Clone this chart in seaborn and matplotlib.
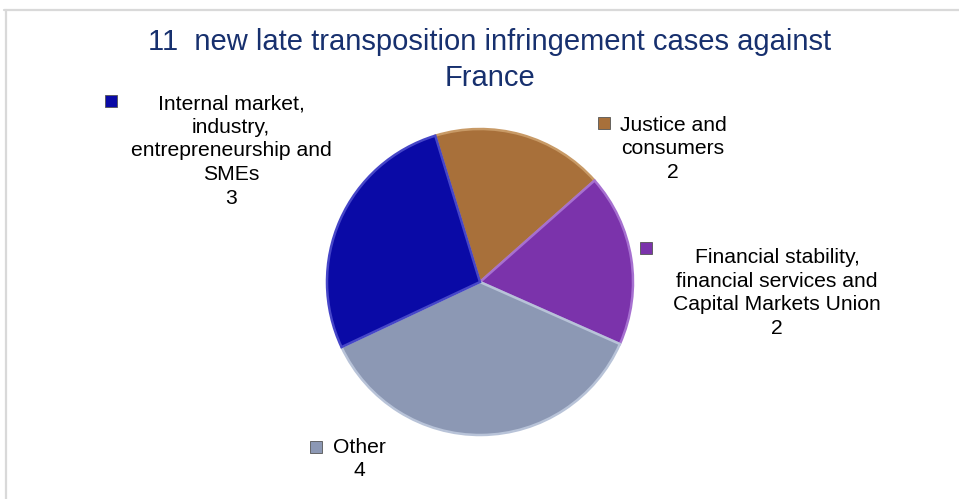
import matplotlib
matplotlib.use("Agg")
import matplotlib.pyplot as plt
from matplotlib.lines import Line2D
from matplotlib.patches import Rectangle
import seaborn as sns

# datos del grafico
title = "11  new late transposition infringement cases against\nFrance"
categories = ["Justice and\nconsumers",
              "Financial stability,\nfinancial services and\nCapital Markets Union",
              "Other",
              "Internal market,\nindustry,\nentrepreneurship and\nSMEs"]
values = [2, 2, 4, 3]
colors = ["#A8703A", "#7B33AB", "#8C98B4", "#0A0AA6"]
edge_colors = ["#C89A66", "#A670D0", "#B8C3D8", "#4646C8"]

sns.set_theme(style="white")
plt.rcParams['font.family'] = ['Liberation Sans', 'DejaVu Sans']

W, H = 959, 499
fig = plt.figure(figsize=(W / 100, H / 100), dpi=100)
fig.patch.set_facecolor("white")

def fx(x):
    return x / W

def fy(y):
    return 1 - y / H

# marco gris claro (solo arriba e izquierda)
fig.add_artist(Line2D([fx(4), 1], [fy(10), fy(10)], color="#D9D9D9", lw=1.6))
fig.add_artist(Line2D([fx(6), fx(6)], [fy(10), 0], color="#D9D9D9", lw=1.6))

# pastel: centro (480, 282) px, radio 153 px
cx, cy, r = 480, 282, 153
ax = fig.add_axes([fx(cx - r), fy(cy + r), 2 * r / W, 2 * r / H])
wedges, _ = ax.pie(values, colors=colors, startangle=107, counterclock=False,
                   radius=1, wedgeprops=dict(linewidth=1.8))
for w, ec in zip(wedges, edge_colors):
    w.set_edgecolor(ec)
ax.set_xlim(-1, 1)
ax.set_ylim(-1, 1)
ax.axis("off")

fig.text(fx(490), fy(60), title, ha="center", va="center", fontsize=21,
         color="#17306E", linespacing=1.35)

# etiquetas: (marcador x, marcador y, texto x, texto y centro)
label_pos = [(604, 123, 673, 149),
             (646, 248, 777, 293),
             (316, 447, 359, 459),
             (111, 101, 231, 151)]

for (mx, my, tx, ty), cat, val, c in zip(label_pos, categories, values, colors):
    s = 12
    fig.add_artist(Rectangle((fx(mx - s / 2), fy(my + s / 2)), s / W, s / H,
                             facecolor=c, edgecolor="#555555", lw=0.6))
    fig.text(fx(tx), fy(ty), f"{cat}\n{val}", ha="center", va="center",
             fontsize=15.2, color="black", linespacing=1.3)

fig.savefig("out.png", dpi=100)
